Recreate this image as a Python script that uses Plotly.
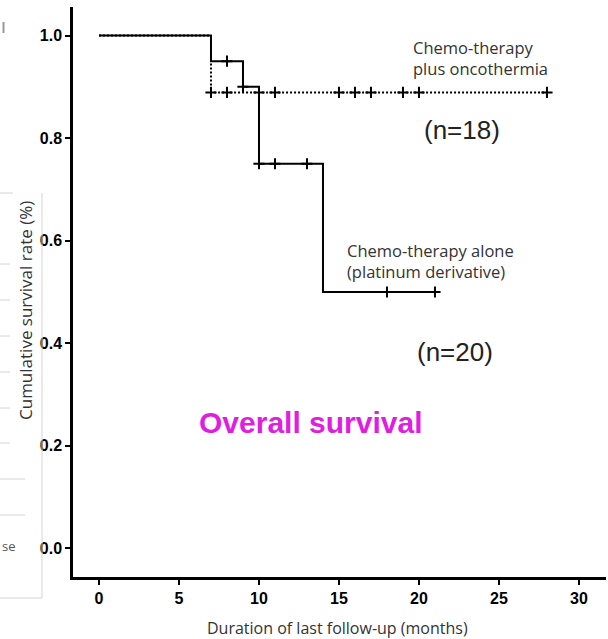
import plotly.graph_objects as go

# ---------------- data ----------------
onco_times = [0, 7, 28]
onco_surv = [1.0, 0.889, 0.889]
onco_censor_t = [7, 8, 10, 11, 15, 16, 17, 19, 20, 28]
onco_censor_s = [0.889] * len(onco_censor_t)

chemo_times = [0, 7, 9, 10, 14, 21]
chemo_surv = [1.0, 0.95, 0.90, 0.75, 0.50, 0.50]
chemo_censor_t = [8, 9, 10, 11, 13, 18, 21]
chemo_censor_s = [0.95, 0.90, 0.75, 0.75, 0.75, 0.50, 0.50]

x_ticks = [0, 5, 10, 15, 20, 25, 30]
y_ticks = [0.0, 0.2, 0.4, 0.6, 0.8, 1.0]
y_tick_text = ["0.0", "0.2", "0.4", "0.6", "0.8", "1.0"]

# ---------------- layout geometry ----------------
W, H = 608, 639
ML, MR, MT, MB = 73, 2, 7, 62
PW, PH = W - ML - MR, H - MT - MB


def px(xp):
    return (xp - ML) / PW


def py(yp):
    return (H - MB - yp) / PH


fig = go.Figure()

fig.add_trace(go.Scatter(x=chemo_times, y=chemo_surv, mode="lines",
                         line=dict(color="black", width=2, shape="hv"),
                         showlegend=False, hoverinfo="skip"))
fig.add_trace(go.Scatter(x=onco_times, y=onco_surv, mode="lines",
                         line=dict(color="black", width=2, shape="hv", dash="2px,2px"),
                         showlegend=False, hoverinfo="skip"))
fig.add_trace(go.Scatter(x=chemo_censor_t, y=chemo_censor_s, mode="markers",
                         marker=dict(symbol="cross-thin", size=8,
                                     line=dict(color="black", width=2)),
                         showlegend=False, hoverinfo="skip"))
fig.add_trace(go.Scatter(x=onco_censor_t, y=onco_censor_s, mode="markers",
                         marker=dict(symbol="cross-thin", size=8,
                                     line=dict(color="black", width=2)),
                         showlegend=False, hoverinfo="skip"))

txt_font = dict(family="Open Sans, Noto Sans, sans-serif", size=16.5, color="#333333")

annotations = [
    dict(x=19.5, y=0.956, xref="x", yref="y", text="Chemo-therapy<br>plus oncothermia",
         showarrow=False, xanchor="left", yanchor="middle", align="left", font=txt_font),
    dict(x=22.7, y=0.816, xref="x", yref="y", text="(n=18)", showarrow=False,
         xanchor="center", yanchor="middle",
         font=dict(family="Liberation Sans, Arial, sans-serif", size=26, color="#222222")),
    dict(x=15.4, y=0.560, xref="x", yref="y", text="Chemo-therapy alone<br>(platinum derivative)",
         showarrow=False, xanchor="left", yanchor="middle", align="left", font=txt_font),
    dict(x=22.25, y=0.383, xref="x", yref="y", text="(n=20)", showarrow=False,
         xanchor="center", yanchor="middle",
         font=dict(family="Liberation Sans, Arial, sans-serif", size=26, color="#222222")),
    dict(x=13.2, y=0.245, xref="x", yref="y", text="<b>Overall survival</b>", showarrow=False,
         xanchor="center", yanchor="middle",
         font=dict(family="Liberation Sans, Arial, sans-serif", size=30, color="#E01EE0")),
    dict(x=px(25), y=py(311), xref="paper", yref="paper", text="Cumulative survival rate (%)",
         textangle=-90, showarrow=False, xanchor="center", yanchor="middle",
         font=dict(family="Open Sans, Noto Sans, sans-serif", size=17, color="#333333")),
    dict(x=px(337), y=py(628), xref="paper", yref="paper",
         text="Duration of last follow-up (months)",
         showarrow=False, xanchor="center", yanchor="middle",
         font=dict(family="Open Sans, Noto Sans, sans-serif", size=16, color="#333333")),
    dict(x=px(0), y=py(546), xref="paper", yref="paper", text="se", showarrow=False,
         xanchor="left", yanchor="middle",
         font=dict(family="Open Sans, sans-serif", size=13, color="#555555")),
]

# faint remnants of a neighbouring panel on the left edge
shapes = [
    dict(type="line", xref="paper", yref="paper", x0=px(42), x1=px(42), y0=py(193), y1=py(598),
         line=dict(color="#d4d4d4", width=1)),
    dict(type="line", xref="paper", yref="paper", x0=px(0), x1=px(42), y0=py(598), y1=py(598),
         line=dict(color="#d4d4d4", width=1)),
    dict(type="line", xref="paper", yref="paper", x0=px(3.5), x1=px(3.5), y0=py(22), y1=py(33),
         line=dict(color="#999999", width=2)),
]
for yy, ln in [(193, 13), (264, 10), (300, 10), (336, 10), (372, 10), (408, 10),
               (443, 10), (479, 25), (515, 25)]:
    shapes.append(dict(type="line", xref="paper", yref="paper", x0=px(0), x1=px(ln),
                       y0=py(yy), y1=py(yy), line=dict(color="#d4d4d4", width=1)))

tick_font = dict(family="Liberation Sans, Arial, sans-serif", size=16, color="black")

fig.update_layout(
    width=W, height=H,
    margin=dict(l=ML, r=MR, t=MT, b=MB, autoexpand=False),
    paper_bgcolor="white", plot_bgcolor="white",
    showlegend=False,
    annotations=annotations,
    shapes=shapes,
    xaxis=dict(range=[-1.625, 31.69], tickmode="array", tickvals=x_ticks,
               ticktext=[f"<b>{t}</b>" for t in x_ticks],
               showline=True, linecolor="black", linewidth=2.5,
               ticks="outside", ticklen=5, tickwidth=2, tickcolor="black",
               showgrid=False, zeroline=False, tickfont=tick_font, fixedrange=True),
    yaxis=dict(range=[-0.0556, 1.0556], tickmode="array", tickvals=y_ticks,
               ticktext=[f"<b>{t}</b>" for t in y_tick_text],
               showline=True, linecolor="black", linewidth=2.5,
               ticks="outside", ticklen=5, tickwidth=2, tickcolor="black",
               showgrid=False, zeroline=False, tickfont=tick_font, fixedrange=True),
)

fig.write_html("out.html", config={"displayModeBar": False})
